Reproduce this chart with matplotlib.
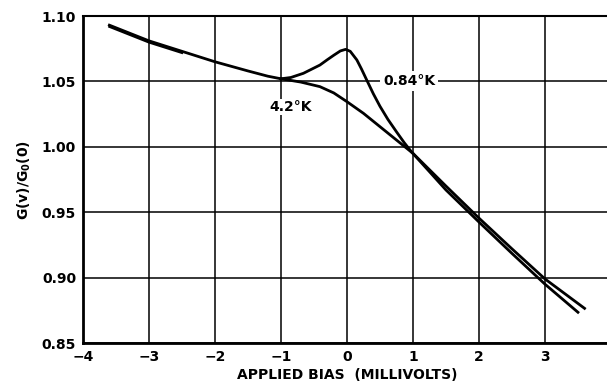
import numpy as np
import matplotlib.pyplot as plt

# shared branch (both temperatures coincide below -1 mV)
x_common = [-3.6, -3.3, -3.0, -2.5, -2.0, -1.5, -1.2, -1.0]
y_common = [1.093, 1.087, 1.081, 1.073, 1.065, 1.058, 1.054, 1.052]

# 0.84 K curve
x_084 = [-1.0, -0.85, -0.66, -0.41, -0.3, -0.2, -0.1, -0.02, 0.05, 0.15, 0.22, 0.30,
         0.40, 0.50, 0.62, 0.75, 0.87, 0.98, 1.25, 1.5, 2.0, 2.5, 3.0, 3.5]
y_084 = [1.052, 1.0530, 1.0562, 1.0625, 1.0665, 1.0700, 1.0733, 1.0745, 1.0730, 1.0664,
         1.0595, 1.0510, 1.0405, 1.0310, 1.0210, 1.0115, 1.0030, 0.9960, 0.9810, 0.9670,
         0.9425, 0.9185, 0.8950, 0.8735]

# 4.2 K curve
x_42 = [-1.0, -0.7, -0.41, -0.2, 0.0, 0.25, 0.5, 0.75, 1.0, 1.25, 1.5, 2.0, 2.5, 3.0, 3.6]
y_42 = [1.052, 1.0495, 1.0460, 1.0412, 1.0345, 1.0256, 1.0154, 1.0052, 0.995, 0.9825,
        0.9700, 0.9455, 0.9220, 0.8990, 0.8765]

xticks = [-4, -3, -2, -1, 0, 1, 2, 3, 4]
yticks = [0.85, 0.90, 0.95, 1.00, 1.05, 1.10]

plt.rcParams['font.family'] = 'DejaVu Sans'
plt.rcParams['font.weight'] = 'bold'
plt.rcParams['axes.labelweight'] = 'bold'
plt.rcParams['mathtext.default'] = 'bf'

fig = plt.figure(figsize=(6.07, 3.83), dpi=100)
ax = fig.add_axes([0.1367, 0.1044, 0.8698, 0.8538])

ax.plot(x_common, y_common, color='black', lw=2.0, solid_joinstyle='round')
# second trace slightly offset at start so the shared branch looks thick, like the original
ax.plot(x_common[:4], np.array(y_common[:4]) - 0.0012, color='black', lw=1.6)
ax.plot(x_084, y_084, color='black', lw=2.0, solid_joinstyle='round')
ax.plot(x_42, y_42, color='black', lw=2.0, solid_joinstyle='round')

ax.set_xlim(-4, 4)
ax.set_ylim(0.85, 1.10)
ax.set_xticks(xticks)
ax.set_xticklabels(['\u22124', '\u22123', '\u22122', '\u22121', '0', '1', '2', '3', '4'])
ax.set_yticks(yticks)
ax.set_yticklabels([f'{v:.2f}' for v in yticks])
ax.tick_params(length=0, labelsize=10, pad=5)
ax.grid(True, color='black', lw=1.1)
ax.set_axisbelow(True)

for side in ['left', 'bottom']:
    ax.spines[side].set_linewidth(2.0)
ax.spines['top'].set_linewidth(1.5)
ax.spines['right'].set_visible(False)

ax.text(-0.85, 1.0305, '4.2\u00b0K', fontsize=10, ha='center', va='center',
        bbox=dict(facecolor='white', edgecolor='none', pad=1))
ax.text(0.94, 1.0505, '0.84\u00b0K', fontsize=10, ha='center', va='center',
        bbox=dict(facecolor='white', edgecolor='none', pad=2))

ax.set_xlabel('APPLIED BIAS  (MILLIVOLTS)', fontsize=10, labelpad=3)
ax.set_ylabel('G(v)/G$_0$(0)', fontsize=10, labelpad=6)

fig.savefig('out.png', dpi=100)
